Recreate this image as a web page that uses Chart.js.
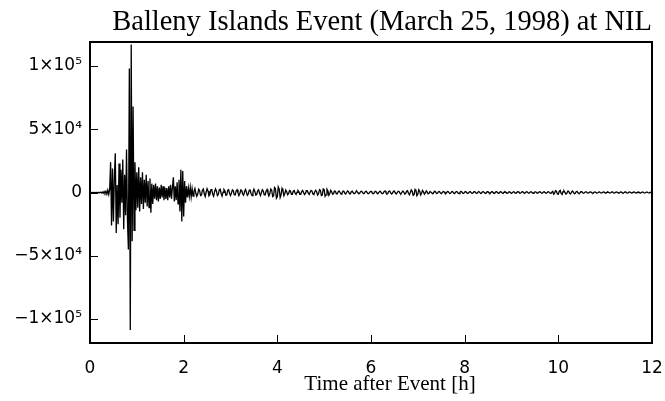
<!DOCTYPE html>
<html>
<head>
<meta charset="utf-8">
<script src="https://cdn.jsdelivr.net/npm/chart.js@4.4.1/dist/chart.umd.min.js"></script>
<style>
  html, body { margin: 0; padding: 0; background: #ffffff; }
  #wrap { width: 665px; height: 401px; }
</style>
</head>
<body>
<div id="wrap"><canvas id="seis" width="665" height="401"></canvas></div>
<script>
// Vertical-component record at NIL, one sample every 0.02 h (72 s), counts
const sampleStepHours = 0.02;
const amplitude = [
  0, 80, -60, 100, -80, 60, -100, 120, -80, 100,
  -150, 200, -300, 400, -600, 800, -500, 1000, -1300, 1800,
  -1500, 2500, 24000, -26000, 19000, -23000, 12000, 31000, -32000, 6000,
  -25000, 23000, -20000, 18000, -8000, 26000, -29000, 14000, -18000, 34000,
  -22000, -45000, 98000, -108800, 117000, -38500, 68000, -30000, 24000, -14000,
  16000, -12000, 20000, -15000, 12000, -9000, 16000, -13000, 10000, -8000,
  14000, -11000, 9000, -12000, 11000, -16000, 7000, -9000, 6000, -5000,
  7000, -6000, 5000, -7000, 4000, -5000, 6000, -4000, 5000, -6000,
  4000, -5000, 3500, -6000, 5000, -4000, 6000, -5000, 4000, 12000,
  -7000, 5000, -6000, 8000, -9000, 10000, -15000, 18000, -23000, 17000,
  -19000, 9000, -8000, 5000, -4000, 3500, -3000, 4000, -3500, 3000,
  -2800, 1000, 3200, -600, -3000, -1200, 2600, 1500, -2400, -2000,
  1800, 2800, -1000, -3200, 400, 3000, 1200, -2600, -1800, 2200,
  2400, -1400, -3000, 600, 2800, 1000, -2400, -1600, 2000, 2600,
  -800, -2800, 200, 2400, 1400, -2200, -2000, 1600, 2200, -600,
  -2400, -400, 2000, 1400, -1800, -2000, 1200, 2200, -200, -2400,
  -800, 2000, 1600, -1400, -2200, 800, 2400, 200, -2200, -1200,
  1800, 2000, -1000, -2400, 400, 2600, 800, -2000, -1600, 1400,
  2200, -600, -2400, 0, 2200, 1200, -1800, -2000, 1000, 2400,
  -200, -2600, -800, 2800, 1800, -3200, -2600, 4000, 3000, -4600,
  -3400, 4400, 2600, -4000, -1800, 3200, 1400, -2600, -800, 2000,
  600, -1800, -1000, 1600, 1200, -1400, -1400, 1000, 1600, -600,
  -1600, 200, 1600, 800, -1400, -1400, 800, 1600, 0, -1600,
  -800, 1400, 1400, -600, -1600, 200, 1600, 1000, -1200, -1600,
  600, 1800, 400, -2000, -1000, 2200, 1600, -2400, -2000, 2800,
  2200, -3000, -1800, 2600, 1400, -2200, -800, 1800, 600, -1400,
  -800, 1200, 1000, -1000, -1000, 600, 1200, 0, -1200, -600,
  1000, 1000, -600, -1200, 200, 1200, 600, -1000, -1000, 600,
  1000, -200, -1000, -600, 800, 1000, -200, -1000, -400, 800,
  1000, 0, -1000, -600, 800, 1000, -200, -1000, -600, 600,
  1000, 200, -1000, -800, 600, 1000, 0, -1000, -400, 800,
  1000, -200, -1000, -600, 800, 1200, -200, -1200, -600, 1000,
  1200, -400, -1200, -400, 1000, 1000, -400, -1200, -200, 1000,
  800, -600, -1000, 200, 1200, 400, -1200, -800, 1000, 1400,
  -600, -1800, 0, 2000, 1000, -2200, -1600, 2400, 1600, -2600,
  -1400, 2200, 1000, -2000, -600, 1600, 600, -1400, -400, 1200,
  400, -1000, -600, 800, 800, -400, -1000, 0, 1000, 400,
  -800, -600, 600, 800, -200, -900, -300, 800, 600, -600,
  -800, 200, 900, 300, -800, -600, 600, 800, -200, -900,
  -300, 800, 600, -500, -800, 100, 900, 400, -700, -700,
  400, 800, 0, -800, -400, 600, 700, -200, -800, -200,
  700, 600, -400, -700, 100, 800, 300, -700, -500, 500,
  700, -100, -700, -300, 600, 600, -300, -700, 0, 700,
  400, -600, -600, 300, 700, 0, -700, -300, 600, 500,
  -400, -700, 200, 700, 200, -600, -500, 400, 600, -200,
  -700, -100, 600, 400, -500, -600, 300, 700, 0, -600,
  -400, 500, 600, -200, -700, 0, 600, 400, -500, -500,
  300, 600, 0, -600, -300, 500, 500, -300, -600, 100,
  600, 300, -500, -500, 300, 600, -100, -600, -200, 600,
  400, -400, -700, 200, 900, -1400, -600, 1400, 1000, -1200,
  -1400, 1000, 1600, -800, -1600, 600, 1400, 200, -1200, -800,
  1000, 1000, -600, -1200, 200, 1200, 400, -1000, -800, 600,
  900, -200, -800, -400, 600, 600, -200, -600, -200, 500,
  500, -300, -500, 100, 500, 300, -400, -500, 200, 500,
  100, -500, -300, 400, 500, -200, -500, 0, 500, 300,
  -400, -400, 200, 500, 0, -500, -200, 400, 400, -300,
  -500, 100, 500, 200, -400, -400, 300, 500, -100, -500,
  -200, 400, 400, -300, -500, 100, 500, 200, -400, -300,
  300, 400, -100, -500, -100, 400, 300, -300, -400, 200,
  400, 0, -400, -200, 300, 300, -200, -400, 100, 300, 0
];

// Axis ticks
const xTickHours = [0, 2, 4, 6, 8, 10, 12];
const yTickValues = [-100000, -50000, 0, 50000, 100000];
const yTickLabels = ['\u22121\u00d710\u2075', '\u22125\u00d710\u2074', '0', '5\u00d710\u2074', '1\u00d710\u2075'];

const titleText = 'Balleny Islands Event (March 25, 1998) at NIL';
const xAxisTitle = 'Time after Event [h]';

const trace = amplitude.map((v, i) => ({ x: +(i * sampleStepHours).toFixed(2), y: v }));

// Closed frame, inward tick marks and the horizontal axis caption
const framePlugin = {
  id: 'frame',
  afterDraw(chart) {
    const { ctx, chartArea: a } = chart;
    const xs = chart.scales.x, ys = chart.scales.y;
    const tick = 8;
    ctx.save();
    ctx.strokeStyle = '#000';
    ctx.lineWidth = 1;
    ctx.beginPath();
    xTickHours.forEach(h => {
      const px = Math.round(xs.getPixelForValue(h)) + 0.5;
      ctx.moveTo(px, a.bottom);
      ctx.lineTo(px, a.bottom - tick);
    });
    yTickValues.forEach(v => {
      const py = Math.round(ys.getPixelForValue(v)) + 0.5;
      ctx.moveTo(a.left, py);
      ctx.lineTo(a.left + tick, py);
    });
    ctx.stroke();
    ctx.lineWidth = 2;
    ctx.strokeRect(a.left, a.top, a.right - a.left, a.bottom - a.top);
    ctx.fillStyle = '#000';
    ctx.font = '21px "Liberation Serif", "Times New Roman", serif';
    ctx.textAlign = 'center';
    ctx.textBaseline = 'middle';
    ctx.fillText(xAxisTitle, a.left + (a.right - a.left) / 2 + 19, 384);
    ctx.restore();
  }
};

new Chart(document.getElementById('seis'), {
  type: 'line',
  data: {
    datasets: [{
      data: trace,
      borderColor: '#000',
      borderWidth: 1.3,
      pointRadius: 0,
      tension: 0,
      fill: false
    }]
  },
  options: {
    responsive: false,
    animation: false,
    parsing: false,
    normalized: true,
    layout: { padding: { left: 0, right: 13, top: 0, bottom: 0 } },
    plugins: {
      legend: { display: false },
      tooltip: { enabled: false },
      title: {
        display: true,
        text: titleText,
        align: 'end',
        color: '#000',
        font: { family: '"Liberation Serif", "Times New Roman", serif', size: 28.5, weight: 'normal', lineHeight: 1.2 },
        padding: { top: 5, bottom: 2.8 }
      }
    },
    scales: {
      x: {
        type: 'linear',
        min: 0,
        max: 12,
        afterFit(scale) { scale.height = 58; scale.paddingLeft = 0; scale.paddingRight = 0; },
        afterBuildTicks(scale) { scale.ticks = xTickHours.map(v => ({ value: v })); },
        border: { display: false },
        grid: { display: false, drawOnChartArea: false, drawTicks: false },
        ticks: {
          color: '#000',
          padding: 15,
          maxRotation: 0,
          autoSkip: false,
          font: { family: '"DejaVu Sans", sans-serif', size: 17 },
          callback: (v) => String(v)
        }
      },
      y: {
        type: 'linear',
        min: -119000,
        max: 119000,
        afterFit(scale) { scale.width = 90; scale.paddingTop = 0; scale.paddingBottom = 0; },
        afterBuildTicks(scale) { scale.ticks = yTickValues.map(v => ({ value: v })); },
        border: { display: false },
        grid: { display: false, drawOnChartArea: false, drawTicks: false },
        ticks: {
          color: '#000',
          padding: 8,
          autoSkip: false,
          font: { family: '"DejaVu Sans", sans-serif', size: 17 },
          callback: (v) => {
            const k = yTickValues.indexOf(v);
            return k >= 0 ? yTickLabels[k] : '';
          }
        }
      }
    }
  },
  plugins: [framePlugin]
});
</script>
</body>
</html>
